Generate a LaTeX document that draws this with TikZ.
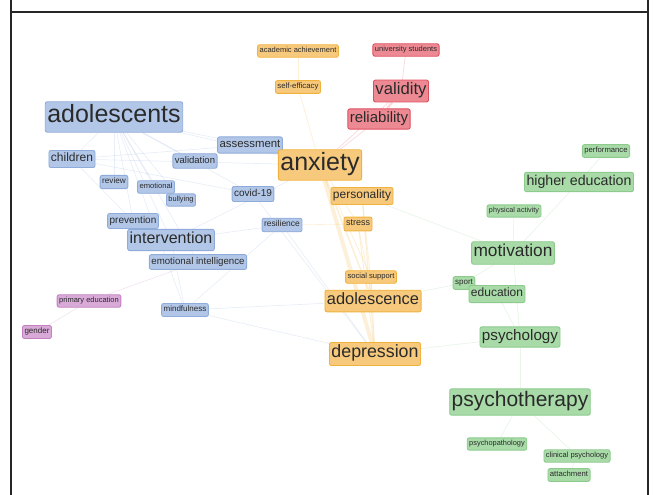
\documentclass[tikz,border=0pt]{standalone}
\usepackage{fontspec}
\setmainfont{Liberation Sans}
\usetikzlibrary{backgrounds}
\definecolor{ink}{HTML}{2A2A2A}
\definecolor{frame}{HTML}{262626}
\definecolor{blfill}{HTML}{B2C7E8}
\definecolor{bldraw}{HTML}{8EABDA}
\definecolor{orfill}{HTML}{F7C97C}
\definecolor{ordraw}{HTML}{F0B23C}
\definecolor{rdfill}{HTML}{EC8993}
\definecolor{rddraw}{HTML}{DE4F5E}
\definecolor{grfill}{HTML}{A9DBA9}
\definecolor{grdraw}{HTML}{8CCB8C}
\definecolor{pufill}{HTML}{D9A9D8}
\definecolor{pudraw}{HTML}{C381C2}

\begin{document}
\begin{tikzpicture}[x=1pt,y=-1pt,
  kw/.style={draw,rounded corners=2pt,line width=0.9pt,inner xsep=2pt,inner ysep=2.4pt,text=ink,
    font=\fontsize{#1}{#1}\selectfont},
  kwblue/.style={kw=#1,fill=blfill,draw=bldraw},
  kworange/.style={kw=#1,fill=orfill,draw=ordraw},
  kwred/.style={kw=#1,fill=rdfill,draw=rddraw},
  kwgreen/.style={kw=#1,fill=grfill,draw=grdraw},
  kwpurple/.style={kw=#1,fill=pufill,draw=pudraw},
  link/.style={line width=0.7pt,opacity=0.2}]
\useasboundingbox (0,0) rectangle (653,495);
% frame
\draw[frame,line width=2.5pt] (11,0) -- (11,495) (11,12) -- (648,12) (648,0) -- (648,495);
% clusters
\foreach \n/\x/\y/\s/\t in {adolescents/114/117/25/adolescents, children/72/159/12/children,
  review/114/182/8.2/review, emotional/156/187/7.6/emotional, bullying/181/200/7.4/bullying,
  validation/195/161/9.5/validation, assessment/250/145/11.4/assessment, covid/253/194/10/covid-19,
  prevention/133/221/10/prevention, intervention/171/240/16/intervention,
  emoint/198/262/9.7/emotional intelligence, resilience/282/225/8.5/resilience,
  mindfulness/185/310/8/mindfulness}
  { \node[kwblue=\s] (\n) at (\x,\y) {\strut\t}; }
\foreach \n/\x/\y/\s/\t in {anxiety/320/165/25/anxiety, academic/298/51/7.5/academic achievement,
  selfeff/298/87/7.8/self-efficacy, personality/362/196/12/personality, stress/358/224/9/stress,
  socsup/371/277/7.6/social support, adolescence/373/301/16.4/adolescence,
  depression/375/354/17.8/depression}
  { \node[kworange=\s] (\n) at (\x,\y) {\strut\t}; }
\foreach \n/\x/\y/\s/\t in {unistud/406/50/7.5/university students, validity/401/91/16.7/validity,
  reliability/379/119/15/reliability}
  { \node[kwred=\s] (\n) at (\x,\y) {\strut\t}; }
\foreach \n/\x/\y/\s/\t in {performance/606/151/7.7/performance, higher/579/182/14.2/higher education,
  physact/514/211/7.2/physical activity, motivation/513/253/17.3/motivation, sport/464/283/8/sport,
  education/497/294/12/education, psychology/520/337/15.2/psychology,
  psychotherapy/520/402/21/psychotherapy, psychopath/497/444/7.4/psychopathology,
  clinpsy/577/456/7.5/clinical psychology, attachment/569/475/7.7/attachment}
  { \node[kwgreen=\s] (\n) at (\x,\y) {\strut\t}; }
\foreach \n/\x/\y/\s/\t in {primedu/89/301/7.5/primary education, gender/37/332/8/gender}
  { \node[kwpurple=\s] (\n) at (\x,\y) {\strut\t}; }
% links
\begin{scope}[on background layer]
\foreach \a/\b in {adolescents/children, adolescents/review, adolescents/prevention,
  adolescents/intervention, adolescents/emotional, adolescents/bullying, adolescents/mindfulness,
  adolescents/emoint, adolescents/covid, adolescents/assessment, adolescents/anxiety,
  adolescents/validation, children/assessment, children/anxiety, children/covid,
  children/prevention, intervention/mindfulness, mindfulness/resilience, intervention/resilience,
  covid/depression, anxiety/intervention, resilience/depression, mindfulness/depression,
  mindfulness/adolescence}
  { \draw[link,bldraw] (\a) -- (\b); }
\foreach \a/\b/\w in {anxiety/depression/4, anxiety/adolescence/1.6, personality/depression/1.2,
  stress/depression/1, socsup/depression/0.8, stress/adolescence/0.8, anxiety/selfeff/0.8,
  selfeff/academic/0.7, anxiety/stress/0.8, anxiety/socsup/0.8, personality/adolescence/0.8,
  resilience/stress/0.6}
  { \draw[link,ordraw,line width=\w pt] (\a) -- (\b); }
\foreach \a/\b/\w in {validity/unistud/0.8, reliability/validity/2.5, reliability/anxiety/0.8,
  validity/anxiety/0.8}
  { \draw[link,rddraw,line width=\w pt] (\a) -- (\b); }
\foreach \a/\b in {performance/higher, higher/motivation, physact/motivation, motivation/sport,
  education/psychology, motivation/psychology, psychology/psychotherapy, psychotherapy/psychopath,
  psychotherapy/clinpsy, clinpsy/attachment, sport/adolescence, psychology/depression,
  personality/motivation}
  { \draw[link,grdraw] (\a) -- (\b); }
\foreach \a/\b in {primedu/gender, primedu/emoint}
  { \draw[link,pudraw] (\a) -- (\b); }
\end{scope}
\end{tikzpicture}
\end{document}
